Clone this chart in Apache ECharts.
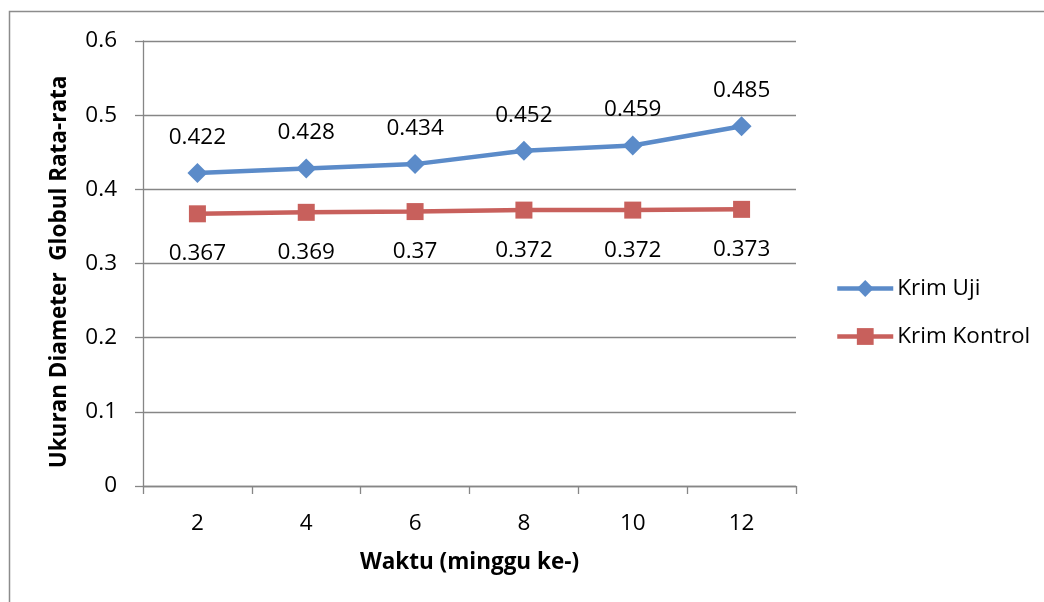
<!DOCTYPE html>
<html>
<head>
<meta charset="utf-8">
<script src="https://cdn.jsdelivr.net/npm/echarts@6/dist/echarts.min.js"></script>
<style>
  html, body { margin: 0; padding: 0; background: #fff; }
  #chart { width: 1044px; height: 602px; }
</style>
</head>
<body>
<div id="chart"></div>
<script>
// Waktu (minggu ke-)
const weeks = ['2', '4', '6', '8', '10', '12'];
// Ukuran diameter globul rata-rata
const krimUji = [0.422, 0.428, 0.434, 0.452, 0.459, 0.485];
const krimKontrol = [0.367, 0.369, 0.37, 0.372, 0.372, 0.373];

const FONT = '"Open Sans", "Noto Sans", sans-serif';
const FS = 22.5;
const AXIS_GREY = '#868686';
const BLUE = '#5B8BC9';
const RED = '#C8605C';

const chart = echarts.init(document.getElementById('chart'), null, { renderer: 'canvas' });

chart.setOption({
  backgroundColor: '#ffffff',
  animation: false,
  textStyle: { fontFamily: FONT },
  graphic: [{
    type: 'rect',
    shape: { x: 9.5, y: 11.5, width: 1100, height: 700 },
    style: { fill: 'none', stroke: '#8c8c8c', lineWidth: 1.5 },
    silent: true
  }],
  grid: { left: 143, right: 248, top: 41, bottom: 116, containLabel: false },
  legend: {
    orient: 'vertical',
    left: 835,
    top: 277,
    padding: 0,
    itemWidth: 56,
    itemHeight: 21,
    itemGap: 25,
    lineStyle: { width: 4.5 },
    textStyle: { fontFamily: FONT, fontSize: FS, lineHeight: 21, color: '#000', padding: [0, 0, 0, -1] },
    data: ['Krim Uji', 'Krim Kontrol']
  },
  xAxis: {
    type: 'category',
    data: weeks,
    boundaryGap: true,
    name: 'Waktu (minggu ke-)',
    nameLocation: 'middle',
    nameGap: 65,
    nameTextStyle: { fontFamily: FONT, fontSize: FS, fontWeight: 'bold', color: '#000' },
    axisLine: { lineStyle: { color: AXIS_GREY, width: 1.3 } },
    axisTick: { show: true, length: 8, lineStyle: { color: AXIS_GREY, width: 1.3 } },
    axisLabel: { fontFamily: FONT, fontSize: FS, color: '#000', margin: 26 },
    splitLine: { show: false }
  },
  yAxis: {
    type: 'value',
    min: 0,
    max: 0.6,
    interval: 0.1,
    name: 'Ukuran Diameter  Globul Rata-rata',
    nameLocation: 'middle',
    nameGap: 72,
    nameRotate: 90,
    nameTextStyle: {
      fontFamily: FONT, fontSize: FS, fontWeight: 'bold', color: '#000',
      padding: [0, 17, 0, 0]
    },
    axisLine: { show: true, lineStyle: { color: AXIS_GREY, width: 1.3 } },
    axisTick: { show: true, length: 8, lineStyle: { color: AXIS_GREY, width: 1.3 } },
    axisLabel: {
      fontFamily: FONT, fontSize: FS, color: '#000', margin: 26,
      formatter: v => (Math.round(v * 10) / 10).toString()
    },
    splitLine: { show: true, lineStyle: { color: AXIS_GREY, width: 1.3 } }
  },
  series: [
    {
      name: 'Krim Uji',
      type: 'line',
      data: krimUji,
      symbol: 'diamond',
      symbolSize: 20,
      lineStyle: { color: BLUE, width: 4.5 },
      itemStyle: { color: BLUE },
      label: {
        show: true, position: 'top', distance: 14,
        fontFamily: FONT, fontSize: FS, color: '#000',
        formatter: p => String(p.value)
      }
    },
    {
      name: 'Krim Kontrol',
      type: 'line',
      data: krimKontrol,
      symbol: 'rect',
      symbolSize: 17,
      lineStyle: { color: RED, width: 4.5 },
      itemStyle: { color: RED },
      label: {
        show: true, position: 'bottom', distance: 20,
        fontFamily: FONT, fontSize: FS, color: '#000',
        formatter: p => String(p.value)
      }
    }
  ]
});
</script>
</body>
</html>
